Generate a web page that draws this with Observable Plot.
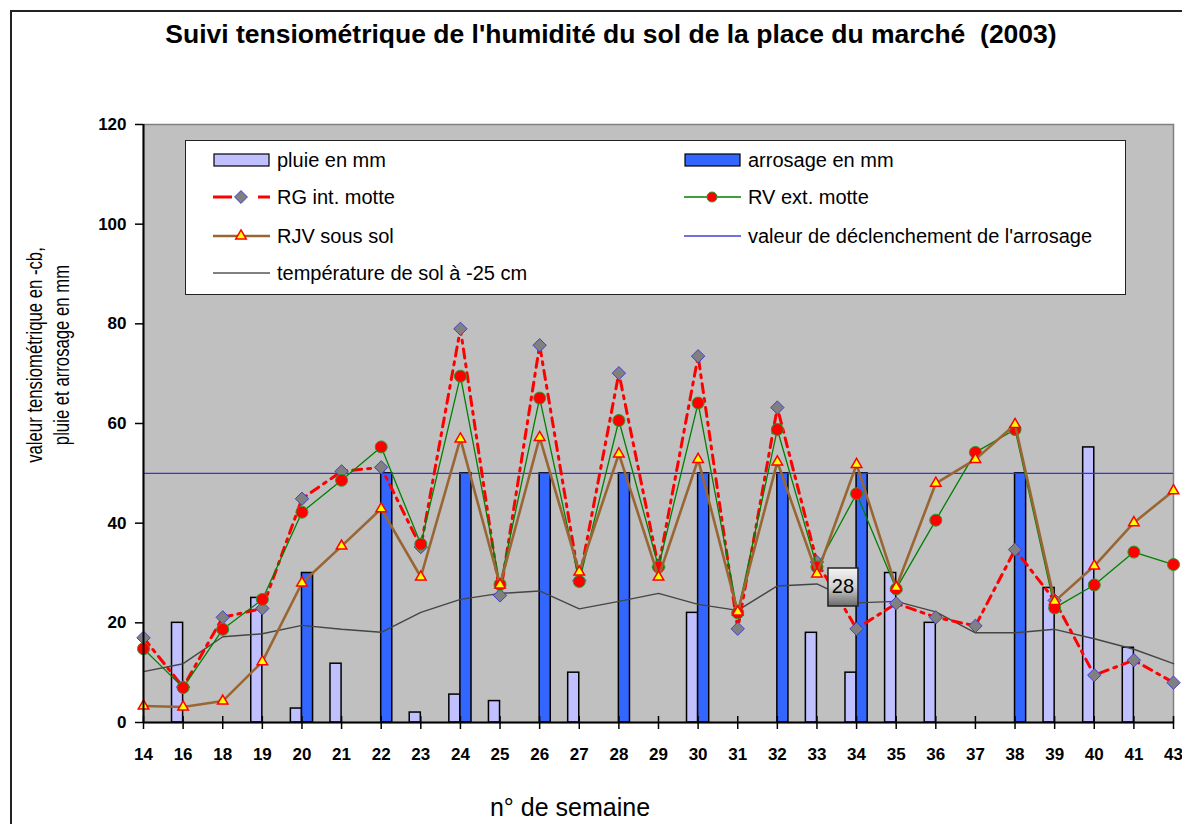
<!DOCTYPE html>
<html><head><meta charset="utf-8">
<script src="https://cdn.jsdelivr.net/npm/d3@7"></script>
<script src="https://cdn.jsdelivr.net/npm/@observablehq/plot@0.6"></script>
<style>
body{margin:0;background:#fff;font-family:"Liberation Sans",Arial,sans-serif;}
#wrap{position:relative;width:1182px;height:824px;overflow:hidden;background:#fff;}
#border{position:absolute;left:10px;top:10px;width:1300px;height:900px;border-left:2px solid #222;border-top:2px solid #222;}
#chart{position:absolute;left:0;top:0;}
#title{position:absolute;left:0;top:19px;width:1222px;text-align:center;font-weight:bold;font-size:26.5px;color:#000;white-space:nowrap;}
#ylabel{position:absolute;left:48px;top:355px;transform:translate(-50%,-50%) rotate(-90deg) scale(0.76,1);white-space:nowrap;text-align:center;font-size:22px;line-height:27px;color:#000;}
#xlabel{position:absolute;left:370px;width:400px;top:793px;text-align:center;font-size:25px;color:#000;}
#legend{position:absolute;left:185px;top:140px;width:939px;height:153px;background:#fff;border:1.5px solid #222;}
.item{position:absolute;display:flex;align-items:center;height:24px;font-size:20px;color:#000;white-space:nowrap;}
.item svg{margin-right:7px;}
</style></head>
<body>
<div id="wrap">
  <div id="border"></div>
  <div id="chart"></div>
  <div id="title">Suivi tensiométrique de l'humidité du sol de la place du marché&nbsp; (2003)</div>
  <div id="ylabel">valeur tensiométrique en -cb,<br>pluie et arrosage en mm</div>
  <div id="xlabel">n° de semaine</div>
  <div id="legend"></div>
</div>
<script>
const weeks = ["14","16","18","19","20","21","22","23","24","25","26","27","28","29","30","31","32","33","34","35","36","37","38","39","40","41","43"];
const pluie = [0,20,0,25,2.8,11.8,0,2,5.6,4.3,0,10,0,0,22,0,0,18,10,30,20,0,0,27,55.2,15,0];
const arrosage = [0,0,0,0,30,0,50,0,50,0,50,0,50,0,50,0,50,0,50,0,0,0,50,0,0,0,0];
const rg = [17.0,7.1,21.1,22.9,44.9,50.4,51.2,35.2,79.0,25.5,75.7,28.5,70.1,31.2,73.5,18.8,63.2,32.2,18.8,23.9,21.1,19.4,34.7,24.5,9.5,12.5,8.0];
const rv = [14.8,7.0,18.7,24.7,42.2,48.6,55.3,35.8,69.5,27.7,65.1,28.3,60.6,31.2,64.1,22.0,58.8,31.2,45.9,26.8,40.6,54.2,58.8,23.0,27.6,34.2,31.7];
const rjv = [3.3,3.1,4.3,12.2,28.0,35.4,42.9,29.2,56.9,27.6,57.2,30.2,53.9,29.2,52.8,22.2,52.3,29.8,51.8,27.1,48.0,52.8,59.8,24.3,31.4,40.1,46.5];
const temp = [10.2,11.8,17.2,17.8,19.5,18.7,18.1,22.1,24.7,25.9,26.4,22.8,24.3,25.9,23.7,22.5,27.4,27.8,24.0,24.3,22.2,18.0,18.0,18.7,16.8,14.7,11.8];
const seuil = 50;
const yTicks = [0,20,40,60,80,100,120];
const labelWeek = "33";
const legendItems = [
  {label:"pluie en mm", kind:"bar", fill:"#c0c0ff"},
  {label:"arrosage en mm", kind:"bar", fill:"#3366ff"},
  {label:"RG int. motte", kind:"rg"},
  {label:"RV ext. motte", kind:"rv"},
  {label:"RJV sous sol", kind:"rjv"},
  {label:"valeur de déclenchement de l'arrosage", kind:"line", stroke:"#7070e0"},
  {label:"température de sol à -25 cm", kind:"line", stroke:"#808080"}
];

const rows = weeks.map((w, i) => ({i, w, pluie: pluie[i], arrosage: arrosage[i], rg: rg[i], rv: rv[i], rjv: rjv[i], temp: temp[i]}));
const idx = rows.map(d => d.i);
const barW = 0.28;
const labelRow = rows.filter(d => d.w === labelWeek);
const boxSymbol = {draw(ctx){ ctx.rect(-15, -19, 30, 38); }};

const plot = Plot.plot({
  width: 1182, height: 824,
  marginLeft: 143, marginRight: 9, marginTop: 124, marginBottom: 102,
  x: {domain: [0, weeks.length - 1]},
  y: {domain: [0, 120]},
  style: {fontFamily: "'Liberation Sans', Arial, sans-serif", background: "transparent", overflow: "visible", color: "#000"},
  marks: [
    Plot.frame({fill: "#c0c0c0", stroke: "#808080", strokeWidth: 1.5}),
    Plot.rectY(rows.filter(d => d.pluie > 0), {x1: d => d.i - barW, x2: d => d.i, y1: 0, y2: "pluie", fill: "#c0c0ff", stroke: "#000", strokeWidth: 1.5}),
    Plot.rectY(rows.filter(d => d.arrosage > 0), {x1: d => d.i, x2: d => d.i + barW, y1: 0, y2: "arrosage", fill: "#3366ff", stroke: "#000", strokeWidth: 1.5}),
    Plot.ruleY([seuil], {stroke: "#3636cc", strokeWidth: 1.2}),
    Plot.line(rows, {x: "i", y: "temp", stroke: "#454545", strokeWidth: 1.4}),
    Plot.line(rows, {x: "i", y: "rg", stroke: "#ff0000", strokeWidth: 3, strokeDasharray: "9,6,3,6"}),
    Plot.dot(rows, {x: "i", y: "rg", symbol: "diamond2", r: 6, fill: "#808080", stroke: "#4040cc", strokeWidth: 1}),
    Plot.line(rows, {x: "i", y: "rv", stroke: "#008000", strokeWidth: 1.3}),
    Plot.dot(rows, {x: "i", y: "rv", r: 6, fill: "#ff0000", stroke: "#2a9a2a", strokeWidth: 1}),
    Plot.line(rows, {x: "i", y: "rjv", stroke: "#996633", strokeWidth: 2.6}),
    Plot.dot(rows, {x: "i", y: "rjv", symbol: "triangle", r: 3.9, fill: "#ffff00", stroke: "#ff0000", strokeWidth: 1.5}),
    Plot.ruleX([0], {stroke: "#000", strokeWidth: 2}),
    Plot.ruleY([0], {stroke: "#000", strokeWidth: 2}),
    Plot.ruleX(idx, {x: d => d, y1: 0, y2: 0, insetTop: -6, insetBottom: -7, stroke: "#000", strokeWidth: 1.5}),
    Plot.dot(labelRow, {x: "i", y: "temp", symbol: boxSymbol, r: 10, dx: 26, dy: 3, fill: "url(#g28)", stroke: "#222", strokeWidth: 1.5}),
    Plot.text(labelRow, {x: "i", y: "temp", text: d => d3.format(".0f")(d.temp), dx: 26, dy: 3, fontSize: 20, fill: "#000"}),
    Plot.axisY({ticks: yTicks, tickSize: 8, tickPadding: 9, fontSize: 17, fontWeight: "bold", label: null, strokeWidth: 1.5}),
    Plot.axisX({ticks: idx, tickFormat: i => weeks[i], tickSize: 0, tickPadding: 25, fontSize: 17, fontWeight: "bold", label: null})
  ]
});

const defs = d3.select(plot).insert("defs", ":first-child");
const g = defs.append("linearGradient").attr("id", "g28").attr("x1", 0).attr("y1", 0).attr("x2", 0).attr("y2", 1);
g.append("stop").attr("offset", 0).attr("stop-color", "#f4f4f4");
g.append("stop").attr("offset", 0.5).attr("stop-color", "#d0d0d0");
g.append("stop").attr("offset", 1).attr("stop-color", "#6a6a6a");
document.getElementById("chart").appendChild(plot);

// legend
const leg = d3.select("#legend");
const colX = [27, 498];
const rowY = [19, 56, 95, 132];
legendItems.forEach((it, k) => {
  const div = leg.append("div").attr("class", "item")
    .style("left", colX[k % 2] + "px").style("top", (rowY[Math.floor(k / 2)] - 12) + "px");
  const s = div.append("svg").attr("width", 57).attr("height", 24);
  if (it.kind === "bar") {
    s.append("rect").attr("x", 1).attr("y", 6).attr("width", 55).attr("height", 12).attr("fill", it.fill).attr("stroke", "#000").attr("stroke-width", 1.2);
  } else if (it.kind === "rg") {
    s.append("line").attr("x1", 0).attr("x2", 19).attr("y1", 12).attr("y2", 12).attr("stroke", "#ff0000").attr("stroke-width", 3);
    s.append("line").attr("x1", 45).attr("x2", 57).attr("y1", 12).attr("y2", 12).attr("stroke", "#ff0000").attr("stroke-width", 3);
    s.append("path").attr("d", d3.symbol(d3.symbolDiamond2, 105)()).attr("transform", "translate(28,12)").attr("fill", "#808080").attr("stroke", "#4040cc");
  } else if (it.kind === "rv") {
    s.append("line").attr("x1", 0).attr("x2", 57).attr("y1", 12).attr("y2", 12).attr("stroke", "#008000").attr("stroke-width", 1.3);
    s.append("circle").attr("cx", 28).attr("cy", 12).attr("r", 5).attr("fill", "#ff0000").attr("stroke", "#2a9a2a");
  } else if (it.kind === "rjv") {
    s.append("line").attr("x1", 0).attr("x2", 57).attr("y1", 12).attr("y2", 12).attr("stroke", "#996633").attr("stroke-width", 2.6);
    s.append("path").attr("d", d3.symbol(d3.symbolTriangle, 48)()).attr("transform", "translate(28,12)").attr("fill", "#ffff00").attr("stroke", "#ff0000").attr("stroke-width", 1.5);
  } else {
    s.append("line").attr("x1", 0).attr("x2", 57).attr("y1", 12).attr("y2", 12).attr("stroke", it.stroke).attr("stroke-width", 2);
  }
  div.append("span").text(it.label);
});
</script>
</body></html>
